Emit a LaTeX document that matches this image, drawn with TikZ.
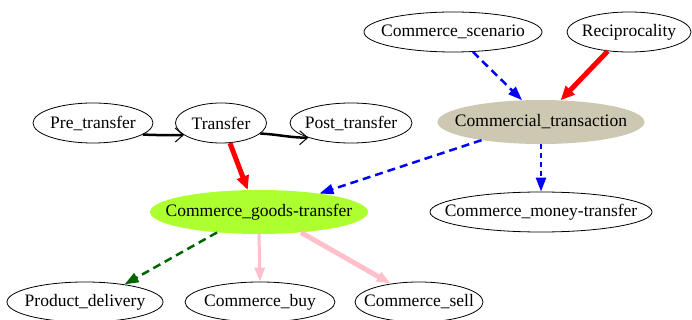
\documentclass[tikz,border=0pt]{standalone}
\usepackage{fontspec}
\setmainfont{Liberation Serif}
\usetikzlibrary{shapes.geometric,arrows.meta}
\definecolor{tanfill}{RGB}{205,200,177}
\definecolor{limefill}{RGB}{173,255,47}
\definecolor{pinkline}{RGB}{255,192,203}
\definecolor{dgreen}{RGB}{0,100,0}
\newcommand{\zw}[1]{\makebox[0pt]{#1}}
\tikzset{
  ell/.style={ellipse, draw=black, line width=0.8pt, inner sep=0pt, minimum height=40pt,
    font=\fontsize{17.5}{20}\selectfont},
  filled/.style={ellipse, draw=none, inner sep=0pt, minimum height=44pt,
    font=\fontsize{17.5}{20}\selectfont},
  openarr/.style={line width=2.5pt, -{Straight Barb[length=8pt,width=14pt,line width=1pt]}},
  redarr/.style={red, line width=5pt, -{Stealth[length=14pt,width=12pt,inset=0pt]}},
  bluearr/.style={blue, line width=2.5pt, dash pattern=on 8pt off 5pt, -{Stealth[length=14pt,width=10pt,inset=0pt]}},
  greenarr/.style={dgreen, line width=2.5pt, dash pattern=on 8pt off 5pt, -{Stealth[length=14pt,width=10pt,inset=0pt]}},
  pinkarr/.style={pinkline, line width=3pt, -{Stealth[length=14pt,width=10pt,inset=0pt]}},
}
\begin{document}
\begin{tikzpicture}[x=1pt,y=-1pt]
\useasboundingbox (0,0) rectangle (692,320);
\node[ell, minimum width=178pt] (scen) at (453,32) {\zw{Commerce\_scenario}};
\node[ell, minimum width=124pt] (reci) at (629,32) {\zw{Reciprocality}};
\node[filled, fill=tanfill, minimum width=207pt] (ctrans) at (541,122) {\zw{Commercial\_transaction}};
\node[ell, minimum width=120pt] (pre) at (93,123) {\zw{Pre\_transfer}};
\node[ell, minimum width=91pt] (trans) at (221,123) {\zw{Transfer}};
\node[ell, minimum width=122pt] (post) at (351,123) {\zw{Post\_transfer}};
\node[filled, fill=limefill, minimum width=218pt] (goods) at (259,212) {\zw{Commerce\_goods-transfer}};
\node[ell, minimum width=222pt] (money) at (541,212) {\zw{Commerce\_money-transfer}};
\node[ell, minimum width=156pt] (deliv) at (85,302) {\zw{Product\_delivery}};
\node[ell, minimum width=150pt] (buy) at (260,302) {\zw{Commerce\_buy}};
\node[ell, minimum width=128pt] (sell) at (419,302) {\zw{Commerce\_sell}};

\draw[openarr] (pre.-13) to[out=-3,in=180] (trans.198);
\draw[openarr] (trans.-15) to[out=-3,in=180] (post.199);
\draw[redarr] (trans.-66) -- (goods.117);
\draw[redarr] (reci.-138) -- (ctrans.48);
\draw[bluearr] (scen.-45) -- (ctrans.131);
\draw[bluearr] (ctrans.-163) -- (goods.17);
\draw[bluearr, dash pattern=on 5pt off 4pt] (ctrans.-90) -- (money.90);
\draw[greenarr] (goods.-154) -- (deliv.24);
\draw[pinkarr] (goods.-90) -- (buy.90);
\draw[pinkarr, line width=5pt] (goods.-26) -- (sell.147);
\end{tikzpicture}
\end{document}
